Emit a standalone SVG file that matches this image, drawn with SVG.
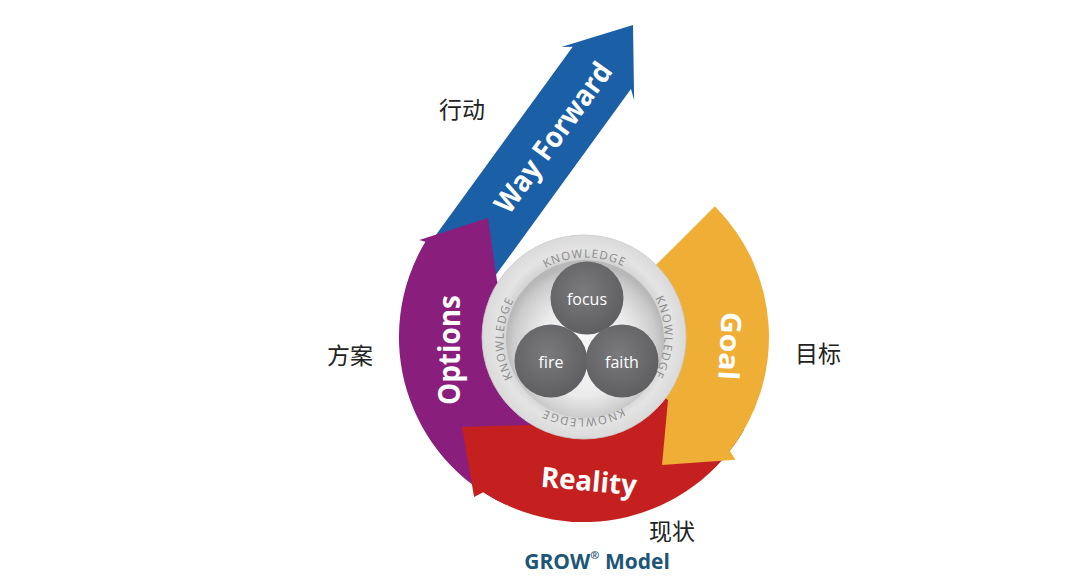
<svg xmlns="http://www.w3.org/2000/svg" width="1080" height="581" viewBox="0 0 1080 581">
<defs>
<style>
.band-label{font-family:"Open Sans","Liberation Sans",sans-serif;font-weight:700;fill:#ffffff;text-anchor:middle;dominant-baseline:central}
.cn{font-family:"Noto Sans CJK SC","Noto Sans",sans-serif;font-size:23px;fill:#222222;text-anchor:middle;dominant-baseline:central}
.kn{font-family:"Open Sans","Liberation Sans",sans-serif;font-size:11.5px;letter-spacing:1.2px;fill:#8a8a8a;text-anchor:middle}
.ball{fill:url(#ballGrad)}
.ball-label{font-family:"Open Sans","Liberation Sans",sans-serif;font-size:16px;fill:#ffffff;text-anchor:middle;dominant-baseline:central}
</style>
<radialGradient id="ringGrad" cx="584" cy="337" r="102" gradientUnits="userSpaceOnUse">
<stop offset="0.76" stop-color="#d4d4d4"/>
<stop offset="0.86" stop-color="#e4e4e4"/>
<stop offset="1" stop-color="#dadada"/>
</radialGradient>
<radialGradient id="sphereGrad" cx="585" cy="345" r="80" fx="585" fy="352" gradientUnits="userSpaceOnUse">
<stop offset="0" stop-color="#fafafa"/>
<stop offset="0.6" stop-color="#ebebeb"/>
<stop offset="0.9" stop-color="#cbcbcb"/>
<stop offset="1" stop-color="#b8b8b8"/>
</radialGradient>
<radialGradient id="ballGrad" cx="0.45" cy="0.4" r="0.6">
<stop offset="0" stop-color="#7a7a7c"/>
<stop offset="1" stop-color="#5f5f61"/>
</radialGradient>
<path id="knPath" d="M 525.7,396.3 A 82.5,82.5 0 0,1 642.3,279.7 A 82.5,82.5 0 0,1 525.7,396.3 Z"/>
</defs>
<rect width="1080" height="581" fill="#ffffff"/>

<g id="way-forward">
<g transform="translate(633,25) rotate(-54)">
<path d="M 0,0 L -60,-45 L -53,-36 L -300,-36 L -300,36 L -53,36 L -60,45 Z" fill="#1b5fa7"/>
<text class="band-label" x="-138" y="0" font-size="29" textLength="178" lengthAdjust="spacingAndGlyphs">Way Forward</text>
</g>
</g>

<g id="options">
<path d="M 505.8,504.7 A 185,185 0 0,1 425.4,241.7 L 419.3,240.1 L 488,218 L 497,281 L 498.4,283.5 A 101,101 0 0,0 541.3,428.5 Z" fill="#8a1e7c"/>
<text class="band-label" x="448" y="350" font-size="30" transform="rotate(-90 448 350)" textLength="110" lengthAdjust="spacingAndGlyphs">Options</text>
</g>

<g id="reality">
<path d="M 744.2,429.5 A 185,185 0 0,1 483.2,492.2 L 474.1,496.9 L 462,427 L 530,425 L 532.0,423.6 A 101,101 0 0,0 671.5,387.5 Z" fill="#c4201f"/>
<text class="band-label" x="589" y="480" font-size="28" transform="rotate(5 589 480)" textLength="96" lengthAdjust="spacingAndGlyphs">Reality</text>
</g>

<g id="goal">
<path d="M 714.8,206.2 A 185,185 0 0,1 729.8,450.9 L 735.5,459.7 L 662,465 L 668,400 L 664.7,397.8 A 101,101 0 0,0 655.4,265.6 Z" fill="#efae35"/>
<text class="band-label" x="731" y="346" font-size="28" transform="rotate(93 731 346)" textLength="68" lengthAdjust="spacingAndGlyphs">Goal</text>
</g>

<g id="knowledge-ring">
<circle cx="584" cy="337" r="102" fill="url(#ringGrad)" stroke="#cccccc" stroke-width="0.8"/>
<circle cx="585" cy="339" r="79" fill="url(#sphereGrad)"/>
<text class="kn"><textPath href="#knPath" startOffset="12.5%">KNOWLEDGE</textPath></text>
<text class="kn"><textPath href="#knPath" startOffset="37.5%">KNOWLEDGE</textPath></text>
<text class="kn"><textPath href="#knPath" startOffset="62.5%">KNOWLEDGE</textPath></text>
<text class="kn"><textPath href="#knPath" startOffset="87.5%">KNOWLEDGE</textPath></text>
</g>

<g id="focus">
<circle class="ball" cx="587" cy="298" r="36.5"/>
<text class="ball-label" x="587" y="299">focus</text>
</g>
<g id="fire">
<circle class="ball" cx="551" cy="361" r="36.5"/>
<text class="ball-label" x="551" y="362">fire</text>
</g>
<g id="faith">
<circle class="ball" cx="622" cy="361" r="36.5"/>
<text class="ball-label" x="622" y="362">faith</text>
</g>

<g id="labels">
<text class="cn" x="462" y="108">行动</text>
<text class="cn" x="350" y="354">方案</text>
<text class="cn" x="818" y="352">目标</text>
<text class="cn" x="672" y="530">现状</text>
</g>

<g id="title">
<text x="597" y="561" font-family="'Open Sans','Liberation Sans',sans-serif" font-weight="700" font-size="21" fill="#1d5676" text-anchor="middle" dominant-baseline="central">GROW<tspan font-size="11" baseline-shift="55%">®</tspan> Model</text>
</g>
</svg>
